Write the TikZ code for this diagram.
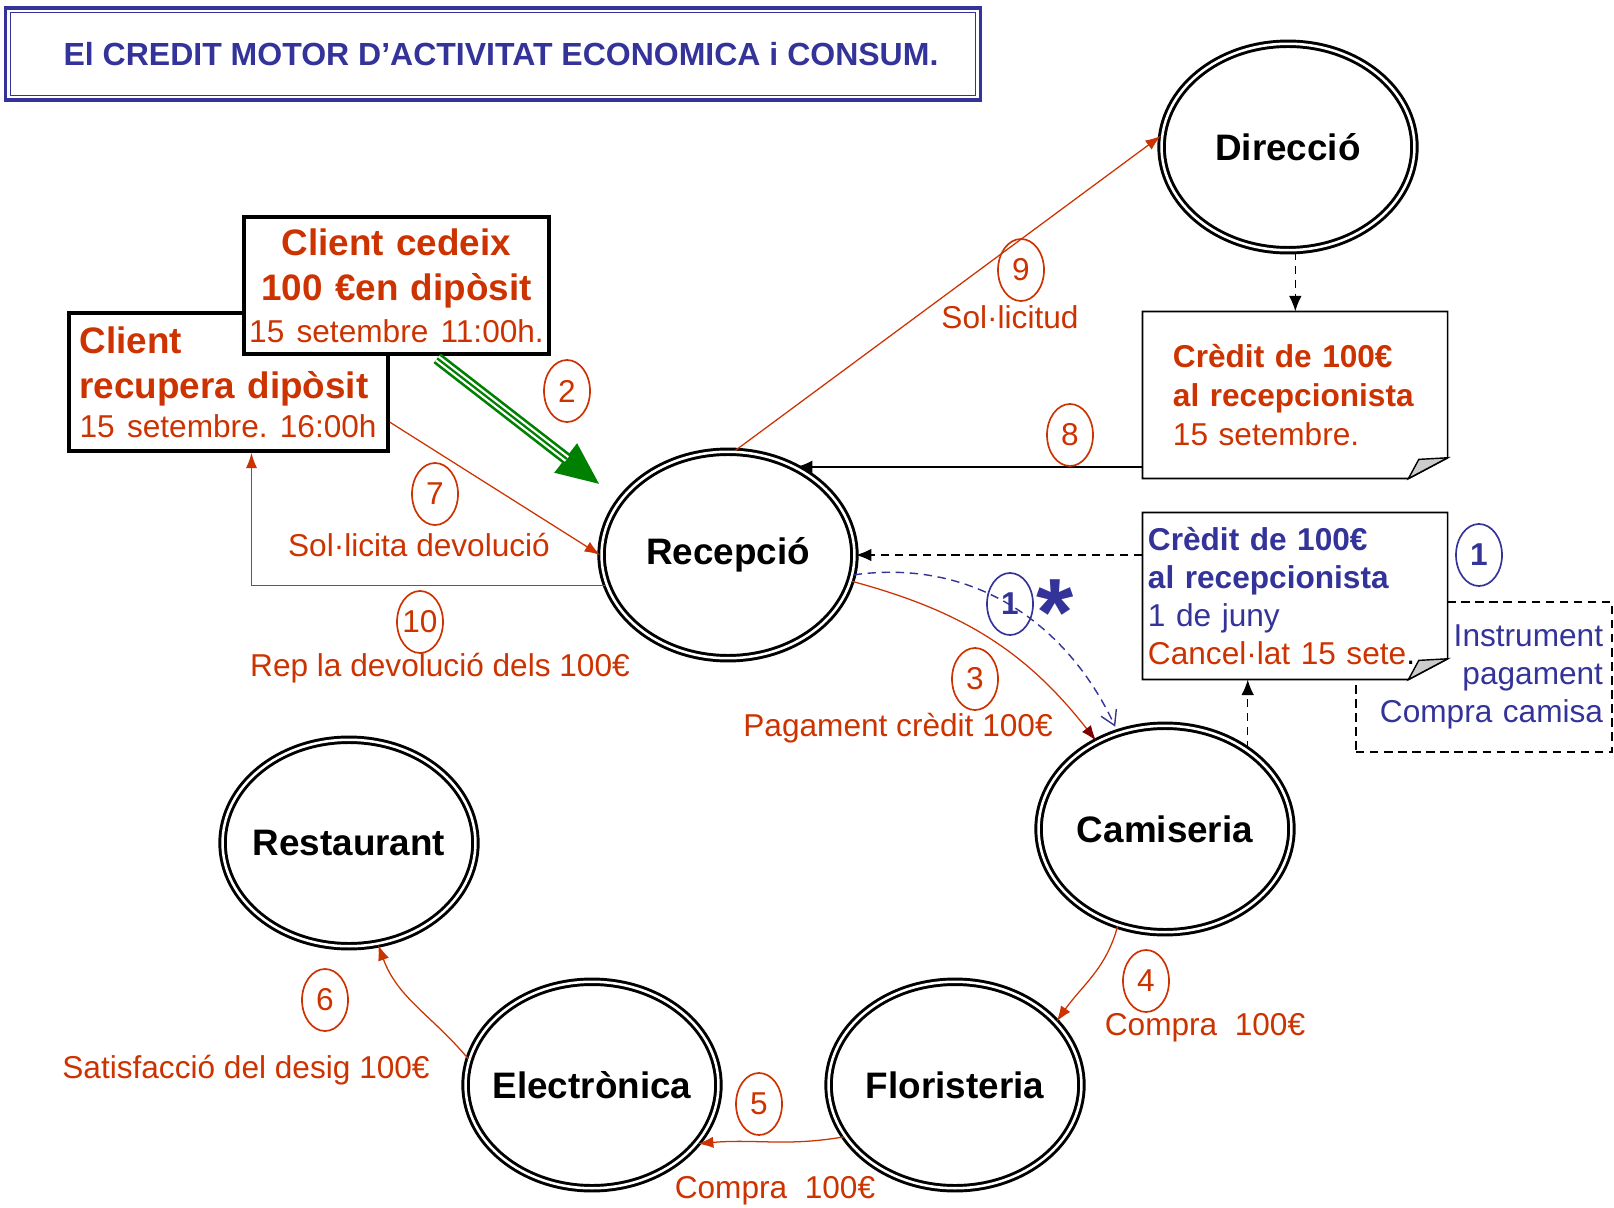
\documentclass[tikz,border=0pt]{standalone}
\usepackage{fontspec}
\setmainfont{Liberation Sans}
\usetikzlibrary{shapes.geometric, arrows.meta}
\definecolor{roig}{RGB}{204,51,0}
\definecolor{blau}{RGB}{51,51,153}
\definecolor{verd}{RGB}{0,128,0}
\definecolor{granat}{RGB}{128,0,0}
\newcommand{\gran}{\fontsize{13.1}{16}\selectfont\bfseries}
\newcommand{\petit}{\fontsize{11.24}{13.9}\selectfont\mdseries}
\frenchspacing

\begin{document}
\begin{tikzpicture}
	[x=0.0125cm, y=-0.0125cm, every node/.style={inner sep=0pt},
	estat/.style={ellipse, draw, line width=1.05pt, double, double distance=0.9pt, inner xsep=-6pt, minimum width=3.16cm, minimum height=2.58cm, font=\gran},
	caixa/.style={draw, line width=1.25pt, fill=white, text=roig, font=\gran},
	num/.style={ellipse, draw=roig, text=roig, line width=0.6pt, inner xsep=-2pt, minimum width=0.575cm, minimum height=0.775cm, font=\petit},
	numblau/.style={num, draw=blau, text=blau, font=\petit\bfseries},
	etiq/.style={text=roig, font=\petit},
	flux/.style={draw=roig, line width=0.45pt, -{Latex[length=5.5pt, width=4pt]}},
	guia/.style={draw, line width=0.55pt, dash pattern=on 3pt off 2pt, -{Latex[length=5.5pt, width=4.5pt]}}]

	\useasboundingbox (0,0) rectangle (1614,1208);

	\node[draw=blau, line width=1.1pt, minimum width=12.175cm, minimum height=1.15cm, text=blau, font=\fontsize{11.38}{14}\selectfont\bfseries] (titol) at (493,54) {\hspace{0.2cm}El CREDIT MOTOR D’ACTIVITAT ECONOMICA i CONSUM.};
	\draw[blau, line width=0.5pt] ([shift={(0.075cm,-0.075cm)}]titol.north west) rectangle ([shift={(-0.075cm,0.075cm)}]titol.south east);

	\node[estat] (dir) at (1288,147) {Direcció};
	\node[estat] (rec) at (728,555) {Recepció};
	\node[estat] (cam) at (1165,829) {Camiseria};
	\node[estat] (rest) at (349,843) {Restaurant};
	\node[estat] (elec) at (592,1085) {Electrònica};
	\node[estat] (flor) at (955,1085) {Floristeria};

	\node[caixa, minimum width=3.99cm, minimum height=1.725cm, text width=3.72cm, align=left] (recup) at (228.5,382) {Client\\recupera dipòsit\\[-2pt]\mbox{\petit 15 setembre. 16:00h}};
	\node[caixa, minimum width=3.8125cm, minimum height=1.7125cm, text width=3.7cm, align=center] (ced) at (396.5,285.5) {Client cedeix\\100 €en dipòsit\\[-1pt]\mbox{\petit 15 setembre 11:00h.}};

	\node[fill=white, minimum width=3.8cm, minimum height=2.075cm, text width=3.05cm, align=left, text=roig, font=\petit] (cred) at (1295,395) {\textbf{Crèdit de 100€}\\\textbf{al recepcionista}\\15 setembre.};
	\draw[line width=0.6pt] (cred.north west) -- (cred.north east) -- ([yshift=0.26cm]cred.south east) -- ([xshift=-0.49cm]cred.south east) -- (cred.south west) -- cycle;
	\filldraw[fill=gray!40, line width=0.5pt] ([xshift=-0.49cm]cred.south east) -- ([xshift=-0.36cm, yshift=0.24cm]cred.south east) -- ([yshift=0.26cm]cred.south east) -- cycle;

	\node[draw, line width=0.55pt, dash pattern=on 3pt off 2pt, minimum width=3.2cm, minimum height=1.875cm, text width=2.975cm, align=right, text=blau, font=\fontsize{11.24}{13.6}\selectfont] (instr) at (1484,677) {Instrument\\pagament\\Compra camisa};

	\node[fill=white, minimum width=3.8cm, minimum height=2.075cm, text width=3.675cm, align=left, text=blau, font=\fontsize{11.24}{13.6}\selectfont] (cred2) at (1295,596) {\textbf{Crèdit de 100€}\\\textbf{al recepcionista}\\1 de juny\\{\color{roig}Cancel·lat 15 sete}\textcolor{black}{.}};
	\draw[line width=0.6pt] (cred2.north west) -- (cred2.north east) -- ([yshift=0.26cm]cred2.south east) -- ([xshift=-0.49cm]cred2.south east) -- (cred2.south west) -- cycle;
	\filldraw[fill=gray!40, line width=0.5pt] ([xshift=-0.49cm]cred2.south east) -- ([xshift=-0.36cm, yshift=0.24cm]cred2.south east) -- ([yshift=0.26cm]cred2.south east) -- cycle;

	\draw[flux] (rec.86) -- (dir.175);
	\draw[guia] (dir.-86) -- (dir.-86 |- cred.north);
	\draw[guia, solid] (cred.west |- rec.52) -- (rec.52);
	\draw[guia] (cred2.west |- rec.east) -- (rec.east);
	\draw[guia] (cam.44) -- (cam.44 |- cred2.south);
	\draw[flux] (recup.-14) -- (rec.west);
	\draw[flux] (rec.194) -| (recup.-72);
	\draw[flux, -{Latex[length=5.5pt, width=4pt, color=granat]}] (rec.-12) to[out=-15, in=128] (cam.128);
	\draw[blau, line width=0.5pt, dash pattern=on 3pt off 2pt, shorten >=2pt, -{Straight Barb[length=5pt, width=6pt]}] (rec.-9) to[out=8, in=115] (cam.116);
	\draw[flux] (cam.-116) to[out=-105, in=55] (flor.32);
	\draw[flux] (flor.-155) to[out=-170, in=5] (elec.-29);
	\draw[flux] (elec.168) to[out=130, in=-70] (rest.-74);

	\draw[verd, line width=4.3pt, shorten <=1.5pt, shorten >=0.3cm, -{Triangle[length=0.55cm, width=0.42cm]}] (ced.-62) -- (rec.153);
	\draw[white, line width=2.4pt, shorten <=1.5pt, shorten >=0.83cm] (ced.-62) -- (rec.153);
	\draw[verd, line width=0.8pt, shorten <=1.5pt, shorten >=0.83cm] (ced.-62) -- (rec.153);

	\node[num] (n9) at (1021,270) {9};
	\node[etiq] (l9) at (1010,317) {Sol·licitud};
	\node[num] (n2) at (567,391) {2};
	\node[num] (n8) at (1070,435) {8};
	\node[num] (n7) at (435,494) {7};
	\node[etiq] (l7) at (419,545) {Sol·licita devolució};
	\node[num] (n10) at (420,622) {10};
	\node[etiq] (l10) at (440,668) {Rep la devolució dels 100€};
	\node[num] (n3) at (975,679) {3};
	\node[etiq] (l3) at (898,728) {Pagament crèdit 100€};
	\node[numblau] (n1) at (1010,604) {1};
	\node[text=blau, font=\fontsize{34}{34}\selectfont\bfseries] (ast) at (1055,613) {*};
	\node[numblau] (n1b) at (1479,555) {1};
	\node[num] (n4) at (1146,981) {4};
	\node[etiq] (l4) at (1205,1028) {Compra\ \ 100€};
	\node[num] (n5) at (759,1104) {5};
	\node[etiq] (l5) at (775,1191) {Compra\ \ 100€};
	\node[num] (n6) at (325,1000) {6};
	\node[etiq] (l6) at (246,1070) {Satisfacció del desig 100€};
\end{tikzpicture}
\end{document}
